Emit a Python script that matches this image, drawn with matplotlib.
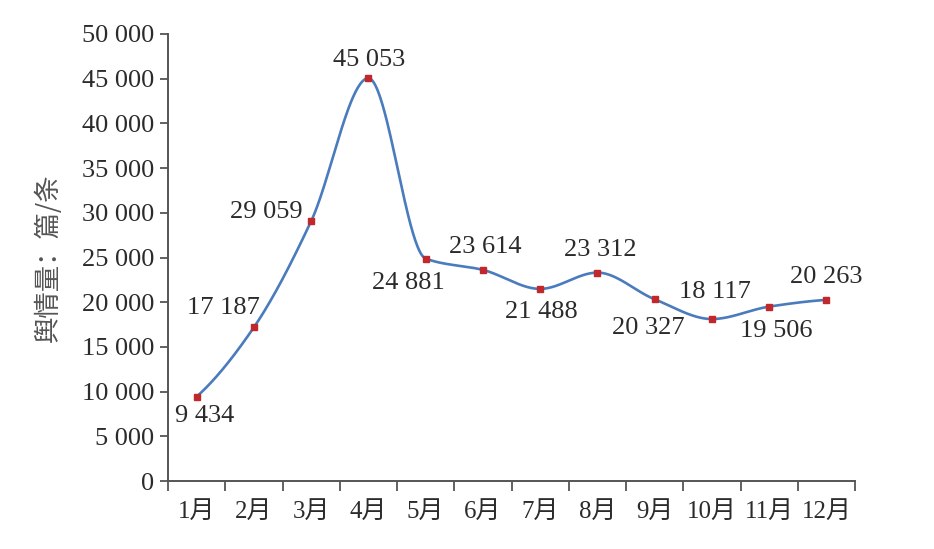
import numpy as np
import matplotlib
matplotlib.use("Agg")
import matplotlib.pyplot as plt
from matplotlib.ticker import FixedLocator, FuncFormatter
from matplotlib.transforms import Bbox, TransformedBbox

months = ["1月", "2月", "3月", "4月", "5月", "6月", "7月", "8月", "9月", "10月", "11月", "12月"]
values = [9434, 17187, 29059, 45053, 24881, 23614, 21488, 23312, 20327, 18117, 19506, 20263]
y_ticks = [0, 5000, 10000, 15000, 20000, 25000, 30000, 35000, 40000, 45000, 50000]
y_label = "舆情量：篇/条"

# label offsets in pixels (dx right, dy up)
label_offsets = [(8, -19), (-30, 19), (-45, 9), (1, 18), (-17, -24), (2, 23),
                 (1, -23), (3, 23), (-6, -29), (3, 27), (7, -24), (0, 23)]

FAM = ["Liberation Serif", "Noto Sans CJK SC", "DejaVu Sans"]
plt.rcParams["font.family"] = FAM

W, H = 934, 549
fig = plt.figure(figsize=(W / 100, H / 100), dpi=100)
ax = fig.add_axes([168 / W, 1 - 481 / H, (855 - 168) / W, (481 - 34) / H])

n = len(values)
xs = np.arange(n) + 0.5
ys = np.array(values, dtype=float)


def pchip_slopes(y):
    d = np.diff(y)
    m = np.zeros_like(y)
    for k in range(1, len(y) - 1):
        if d[k - 1] * d[k] > 0:
            m[k] = 2.0 / (1.0 / d[k - 1] + 1.0 / d[k])
    def end(d0, d1):
        s = (3 * d0 - d1) / 2.0
        if np.sign(s) != np.sign(d0):
            s = 0.0
        elif np.sign(d0) != np.sign(d1) and abs(s) > abs(3 * d0):
            s = 3 * d0
        return s
    m[0] = end(d[0], d[1])
    m[-1] = end(d[-1], d[-2])
    return m


m = pchip_slopes(ys)
cx, cy = [], []
t = np.linspace(0, 1, 50)
for i in range(n - 1):
    h00 = 2 * t**3 - 3 * t**2 + 1
    h10 = t**3 - 2 * t**2 + t
    h01 = -2 * t**3 + 3 * t**2
    h11 = t**3 - t**2
    seg = h00 * ys[i] + h10 * m[i] + h01 * ys[i + 1] + h11 * m[i + 1]
    sl = slice(0, None) if i == 0 else slice(1, None)
    cx.append((xs[i] + t)[sl])
    cy.append(seg[sl])
cx = np.concatenate(cx)
cy = np.concatenate(cy)

ax.plot(cx, cy, color="#4a7bbd", lw=1.9, zorder=2, solid_capstyle="round")
ax.plot(xs, ys, linestyle="none", marker="s", markersize=4.2, color="#c0282b", zorder=3)

ax.set_xlim(0, n)
ax.set_ylim(0, 50000)

ax.xaxis.set_major_locator(FixedLocator(np.arange(0, n + 1)))
ax.xaxis.set_major_formatter(FuncFormatter(lambda v, p: ""))
ax.xaxis.set_minor_locator(FixedLocator(xs))
ax.set_xticklabels(months, minor=True)
ax.tick_params(axis="x", which="major", direction="out", length=7, width=1.3, color="#555555")
ax.tick_params(axis="x", which="minor", length=0, pad=14, labelsize=18, labelcolor="#2b2b2b")

ax.yaxis.set_major_locator(FixedLocator(y_ticks))
ax.yaxis.set_major_formatter(FuncFormatter(lambda v, p: f"{int(v):,}".replace(",", " ")))
ax.tick_params(axis="y", direction="out", length=6, width=1.3, color="#555555", pad=4,
               labelsize=19, labelcolor="#2b2b2b")

for s in ["top", "right"]:
    ax.spines[s].set_visible(False)
for s in ["left", "bottom"]:
    ax.spines[s].set_color("#555555")
    ax.spines[s].set_linewidth(1.4)

fig.text(48 / W, 1 - 258 / H, y_label, rotation=90, ha="center", va="center",
         fontsize=19, color="#555555", family=["Noto Sans CJK SC", "DejaVu Sans"])

clip = TransformedBbox(Bbox([[0, 0], [862 / W, 1]]), fig.transFigure)
for x, v, (dx, dy) in zip(xs, values, label_offsets):
    tx = ax.annotate(f"{v:,}".replace(",", " "), (x, v), xytext=(dx, dy),
                     textcoords="offset pixels", ha="center", va="center",
                     fontsize=19, color="#2b2b2b", annotation_clip=False)
    tx.set_clip_on(True)
    tx.set_clip_box(clip)

fig.savefig("out.png", dpi=100, facecolor="white")
